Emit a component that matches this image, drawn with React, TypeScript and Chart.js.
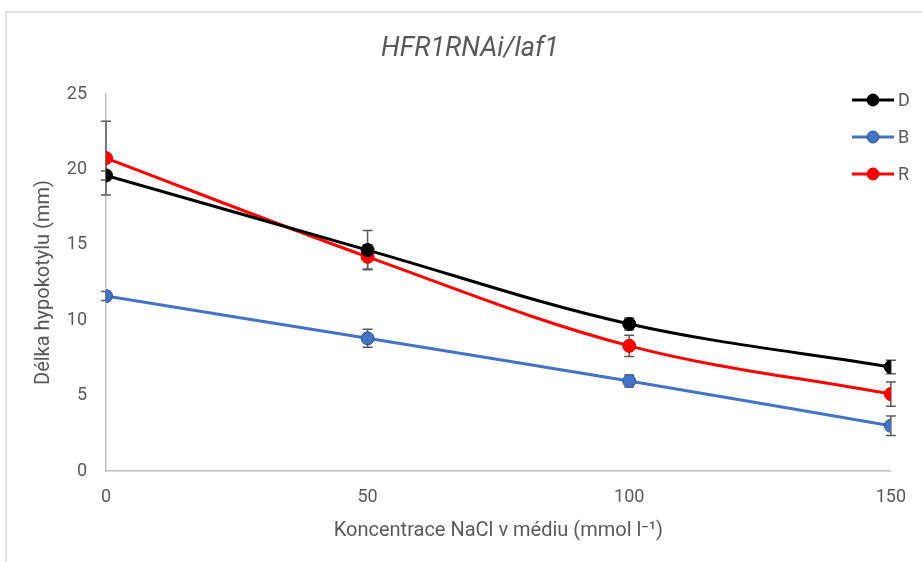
import React, { useEffect, useRef } from 'react';
import { Chart, registerables } from 'chart.js';

Chart.register(...registerables);

const chartTitle = 'HFR1RNAi/laf1';
const xAxisTitle = 'Koncentrace NaCl v médiu (mmol l\u207B\u00B9)';
const yAxisTitle = 'Délka hypokotylu (mm)';

const concentrations = [0, 50, 100, 150];
const seriesNames = ['D', 'B', 'R'];
const seriesColors = ['#000000', '#4472C4', '#FF0000'];
const seriesBorders = ['#000000', '#2F5597', '#E00000'];
const dValues = [19.6, 14.65, 9.75, 6.9];
const bValues = [11.6, 8.8, 5.97, 3.0];
const rValues = [20.75, 14.2, 8.3, 5.1];
const dErrors = [0.3, 1.3, 0.4, 0.45];
const bErrors = [0.3, 0.6, 0.4, 0.65];
const rErrors = [2.45, 0.8, 0.7, 0.8];

const FONT = 'Roboto';
const GRAY = '#595959';

export default function App() {
  const ref = useRef<HTMLCanvasElement | null>(null);

  useEffect(() => {
    if (!ref.current) return;
    const values = [dValues, bValues, rValues];
    const errors = [dErrors, bErrors, rErrors];

    const borderPlugin = {
      id: 'frame',
      beforeDraw(chart: any) {
        const ctx = chart.ctx;
        ctx.save();
        ctx.strokeStyle = '#d9d9d9';
        ctx.lineWidth = 1.5;
        ctx.beginPath();
        ctx.moveTo(6, chart.height);
        ctx.lineTo(6, 12);
        ctx.lineTo(chart.width, 12);
        ctx.stroke();
        ctx.fillStyle = GRAY;
        ctx.font = `italic 27px ${FONT}`;
        ctx.textAlign = 'center';
        ctx.textBaseline = 'middle';
        ctx.fillText(chartTitle, 470, 49);
        ctx.restore();
      },
    };

    const errorPlugin = {
      id: 'errorBars',
      beforeDatasetsDraw(chart: any) {
        const ctx = chart.ctx;
        const xs = chart.scales.x;
        const ys = chart.scales.y;
        ctx.save();
        ctx.strokeStyle = GRAY;
        ctx.lineWidth = 1.5;
        values.forEach((vals, s) => {
          vals.forEach((v, i) => {
            const x = xs.getPixelForValue(concentrations[i]);
            const t = ys.getPixelForValue(v + errors[s][i]);
            const b = ys.getPixelForValue(v - errors[s][i]);
            ctx.beginPath();
            ctx.moveTo(x, t);
            ctx.lineTo(x, b);
            ctx.moveTo(x - 5, t);
            ctx.lineTo(x + 5, t);
            ctx.moveTo(x - 5, b);
            ctx.lineTo(x + 5, b);
            ctx.stroke();
          });
        });
        ctx.restore();
      },
    };

    const legendPlugin = {
      id: 'customLegend',
      afterDraw(chart: any) {
        const ctx = chart.ctx;
        ctx.save();
        const x0 = chart.width - 70;
        seriesNames.forEach((name, i) => {
          const y = 100 + i * 37;
          ctx.strokeStyle = seriesColors[i];
          ctx.lineWidth = 3;
          ctx.beginPath();
          ctx.moveTo(x0, y);
          ctx.lineTo(x0 + 42, y);
          ctx.stroke();
          ctx.fillStyle = seriesColors[i];
          ctx.strokeStyle = seriesBorders[i];
          ctx.lineWidth = 1;
          ctx.beginPath();
          ctx.arc(x0 + 21, y, 6, 0, Math.PI * 2);
          ctx.fill();
          ctx.stroke();
          ctx.fillStyle = GRAY;
          ctx.font = `18px ${FONT}`;
          ctx.textAlign = 'left';
          ctx.textBaseline = 'middle';
          ctx.fillText(name, x0 + 46, y + 1);
        });
        ctx.restore();
      },
    };

    const chart = new Chart(ref.current, {
      type: 'line',
      data: {
        datasets: seriesNames.map((name, s) => ({
          label: name,
          data: concentrations.map((x, i) => ({ x, y: values[s][i] })),
          borderColor: seriesColors[s],
          backgroundColor: seriesColors[s],
          pointBackgroundColor: seriesColors[s],
          pointBorderColor: seriesBorders[s],
          pointBorderWidth: 1,
          pointRadius: 6.5,
          borderWidth: 3,
          tension: 0.35,
          fill: false,
        })),
      },
      options: {
        animation: false,
        responsive: false,
        maintainAspectRatio: false,
        layout: { padding: { left: 32, right: 29, top: 94, bottom: 19 } },
        plugins: {
          legend: { display: false },
          title: { display: false },
          tooltip: { enabled: false },
        },
        scales: {
          x: {
            type: 'linear',
            min: 0,
            max: 150,
            afterFit: (s: any) => { s.height = 72; },
            ticks: {
              stepSize: 50,
              color: GRAY,
              font: { family: FONT, size: 18 },
              padding: 16,
            },
            grid: { display: false, drawTicks: false },
            border: { display: true, color: '#bfbfbf', width: 1.5 },
            title: {
              display: true,
              text: xAxisTitle,
              color: GRAY,
              font: { family: FONT, size: 20 },
              padding: 0,
            },
          },
          y: {
            min: 0,
            max: 25,
            afterFit: (s: any) => { s.width = 74; },
            ticks: {
              stepSize: 5,
              color: GRAY,
              font: { family: FONT, size: 18 },
              padding: 19,
            },
            grid: { display: false, drawTicks: false },
            border: { display: true, color: '#bfbfbf', width: 1.5 },
            title: {
              display: true,
              text: yAxisTitle,
              color: GRAY,
              font: { family: FONT, size: 20 },
              padding: 0,
            },
          },
        },
      },
      plugins: [borderPlugin, errorPlugin, legendPlugin],
    });
    return () => chart.destroy();
  }, []);

  return (
    <div style={{ position: 'absolute', left: 0, top: 0, width: 922, height: 562, background: '#fff' }}>
      <canvas ref={ref} width={922} height={562} style={{ display: 'block' }} />
    </div>
  );
}
